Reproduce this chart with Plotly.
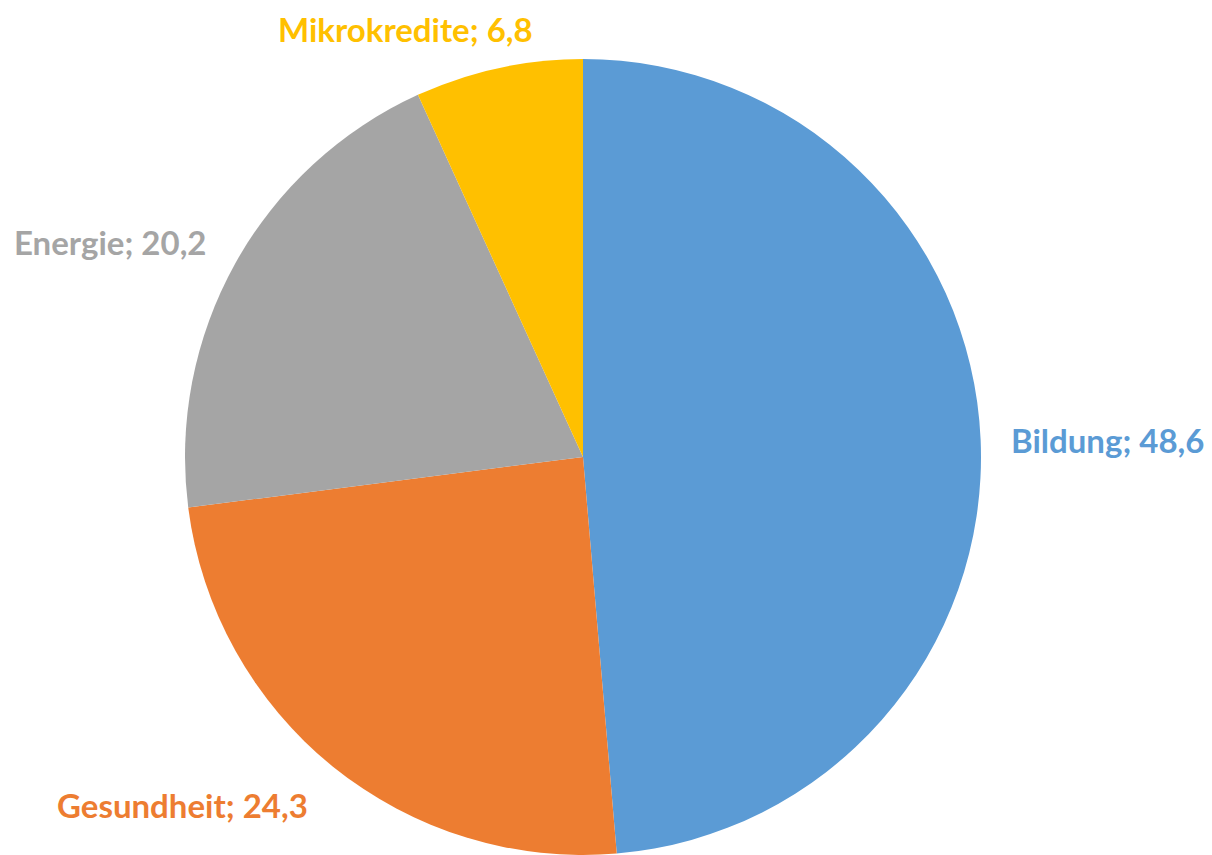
import math
import plotly.graph_objects as go

categories = ["Bildung", "Gesundheit", "Energie", "Mikrokredite"]
values = [48.6, 24.3, 20.2, 6.8]
colors = ["#5B9BD5", "#ED7D31", "#A5A5A5", "#FFC000"]

texts = [f"{c}; {str(v).replace('.', ',')}" for c, v in zip(categories, values)]

W, H = 1212, 855
page_offset = 8  # body margin of the html page
cx, cy, r = 583 - page_offset, 457 - page_offset, 398

# label styling (layout only)
label_anchor = ["left", "right", "right", "right"]
label_xshift = [-10, 1, 8, 44]
label_yshift = [-2, -7, 2, 0]
label_k = 1.1

fig = go.Figure(go.Pie(
    labels=categories,
    values=values,
    sort=False,
    direction="clockwise",
    rotation=0,
    textinfo="none",
    marker=dict(colors=colors, line=dict(color="white", width=0)),
    showlegend=False,
    hoverinfo="label+value",
    domain=dict(x=[(cx - r) / W, (cx + r) / W], y=[(H - cy - r) / H, (H - cy + r) / H]),
))

total = sum(values)
cum = 0.0
for i, v in enumerate(values):
    mid = (cum + v / 2) / total * 2 * math.pi
    cum += v
    px = cx + r * label_k * math.sin(mid)
    py = cy - r * label_k * math.cos(mid)
    fig.add_annotation(
        x=px / W, y=1 - py / H, xref="paper", yref="paper",
        text=f"<b>{texts[i]}</b>", showarrow=False,
        xanchor=label_anchor[i], yanchor="middle",
        xshift=label_xshift[i], yshift=label_yshift[i],
        borderpad=0,
        font=dict(family="Lato", size=33, color=colors[i]),
    )

fig.update_layout(
    width=W, height=H,
    margin=dict(l=0, r=0, t=0, b=0),
    paper_bgcolor="white",
    plot_bgcolor="white",
    font=dict(family="Lato"),
)

fig.write_html("out.html")
